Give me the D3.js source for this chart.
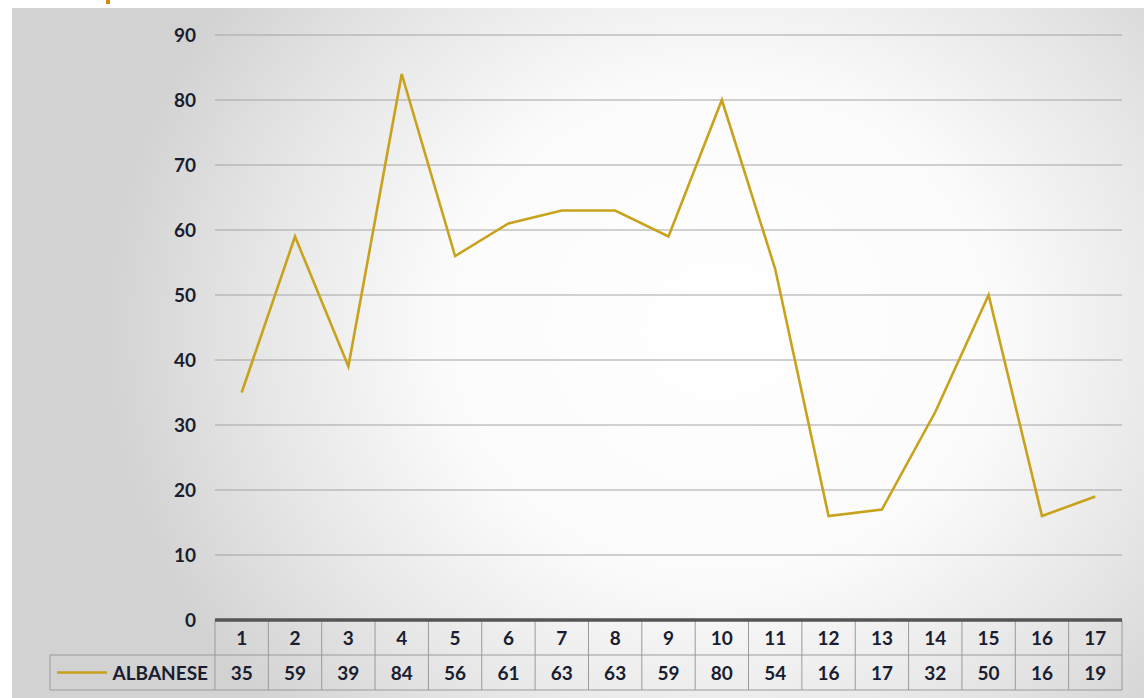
<!DOCTYPE html>
<html><head><meta charset="utf-8">
<script src="https://cdn.jsdelivr.net/npm/d3@7"></script>
<style>body{margin:0;background:#fff;}svg{display:block;}</style>
</head><body>
<svg id="c" width="1144" height="698"></svg>
<script>
const categories = ["1","2","3","4","5","6","7","8","9","10","11","12","13","14","15","16","17"];
const seriesName = "ALBANESE";
const values = [35,59,39,84,56,61,63,63,59,80,54,16,17,32,50,16,19];
const yTicks = [0,10,20,30,40,50,60,70,80,90];

(function(){
const svg = d3.select("#c");
const W = 1144, H = 698;
const mLeft = 215, mRight = 1122, mTop = 35, mBottom = 620;
const rowH = 35;
const font = "Lato, 'Open Sans', sans-serif";
const ink = "#1a1d30";
const lineColor = "#c9a21c";
const fs = 19;

const defs = svg.append("defs");
const rg = defs.append("radialGradient").attr("id","bg")
  .attr("gradientUnits","userSpaceOnUse").attr("cx",720).attr("cy",330).attr("r",620)
  .attr("gradientTransform","translate(720,330) scale(1,0.9) translate(-720,-330)");
rg.append("stop").attr("offset","0").attr("stop-color","#ffffff");
rg.append("stop").attr("offset","0.45").attr("stop-color","#fbfbfb");
rg.append("stop").attr("offset","0.75").attr("stop-color","#e6e6e6");
rg.append("stop").attr("offset","1").attr("stop-color","#d2d2d2");

svg.append("rect").attr("x",12).attr("y",8).attr("width",W-12).attr("height",H-8).attr("fill","url(#bg)");

// cropped orange title remnant at the very top
svg.append("rect").attr("x",106).attr("y",0).attr("width",4).attr("height",4).attr("fill","#d08a10");

const x = d3.scaleBand().domain(categories).range([mLeft,mRight]).padding(0);
const y = d3.scaleLinear().domain([0,90]).range([mBottom,mTop]);

svg.append("g").selectAll("line").data(yTicks.filter(d=>d>0)).join("line")
  .attr("x1",mLeft).attr("x2",mRight).attr("y1",d=>y(d)).attr("y2",d=>y(d))
  .attr("stroke","#a4a4a4").attr("stroke-width",1.2);

const yAxis = d3.axisLeft(y).tickValues(yTicks).tickSize(0).tickPadding(0);
const ya = svg.append("g").attr("transform",`translate(196,0)`).call(yAxis);
ya.select(".domain").remove();
ya.selectAll("text").attr("font-family",font).attr("font-weight","bold").attr("font-size",fs).attr("fill",ink).attr("dy","0.35em");

const line = d3.line().x((d,i)=>x(categories[i])+x.bandwidth()/2).y(d=>y(d));
svg.append("path").datum(values).attr("d",line).attr("fill","none")
  .attr("stroke",lineColor).attr("stroke-width",2.6).attr("stroke-linejoin","miter");

const tb = svg.append("g");
tb.append("line").attr("x1",mLeft).attr("x2",mRight).attr("y1",mBottom+rowH).attr("y2",mBottom+rowH).attr("stroke","#9a9a9a");
tb.append("line").attr("x1",50).attr("x2",mLeft).attr("y1",mBottom+rowH).attr("y2",mBottom+rowH).attr("stroke","#9a9a9a");
tb.append("line").attr("x1",50).attr("x2",mRight).attr("y1",mBottom+2*rowH).attr("y2",mBottom+2*rowH).attr("stroke","#9a9a9a");
tb.append("line").attr("x1",50).attr("x2",50).attr("y1",mBottom+rowH).attr("y2",mBottom+2*rowH).attr("stroke","#9a9a9a");
const bounds = categories.map(c=>x(c)).concat([mRight]);
tb.selectAll("line.v").data(bounds).join("line").attr("class","v")
  .attr("x1",d=>d).attr("x2",d=>d).attr("y1",mBottom).attr("y2",mBottom+2*rowH).attr("stroke","#9a9a9a");
tb.append("line").attr("x1",mLeft).attr("x2",mRight).attr("y1",mBottom).attr("y2",mBottom).attr("stroke","#555").attr("stroke-width",3.5);

tb.selectAll("text.cat").data(categories).join("text").attr("class","cat")
  .attr("x",d=>x(d)+x.bandwidth()/2).attr("y",mBottom+rowH/2+1).attr("dy","0.35em")
  .attr("text-anchor","middle").attr("font-family",font).attr("font-weight","bold").attr("font-size",fs).attr("fill",ink).text(d=>d);
tb.selectAll("text.val").data(values).join("text").attr("class","val")
  .attr("x",(d,i)=>x(categories[i])+x.bandwidth()/2).attr("y",mBottom+rowH*1.5+1).attr("dy","0.35em")
  .attr("text-anchor","middle").attr("font-family",font).attr("font-weight","bold").attr("font-size",fs).attr("fill",ink).text(d=>d);

tb.append("line").attr("x1",57).attr("x2",107).attr("y1",mBottom+rowH*1.5).attr("y2",mBottom+rowH*1.5).attr("stroke",lineColor).attr("stroke-width",2.6);
tb.append("text").attr("x",208).attr("y",mBottom+rowH*1.5+1).attr("dy","0.35em").attr("text-anchor","end")
  .attr("font-family",font).attr("font-weight","bold").attr("font-size",fs).attr("fill",ink).text(seriesName);
})();
</script>
</body></html>
